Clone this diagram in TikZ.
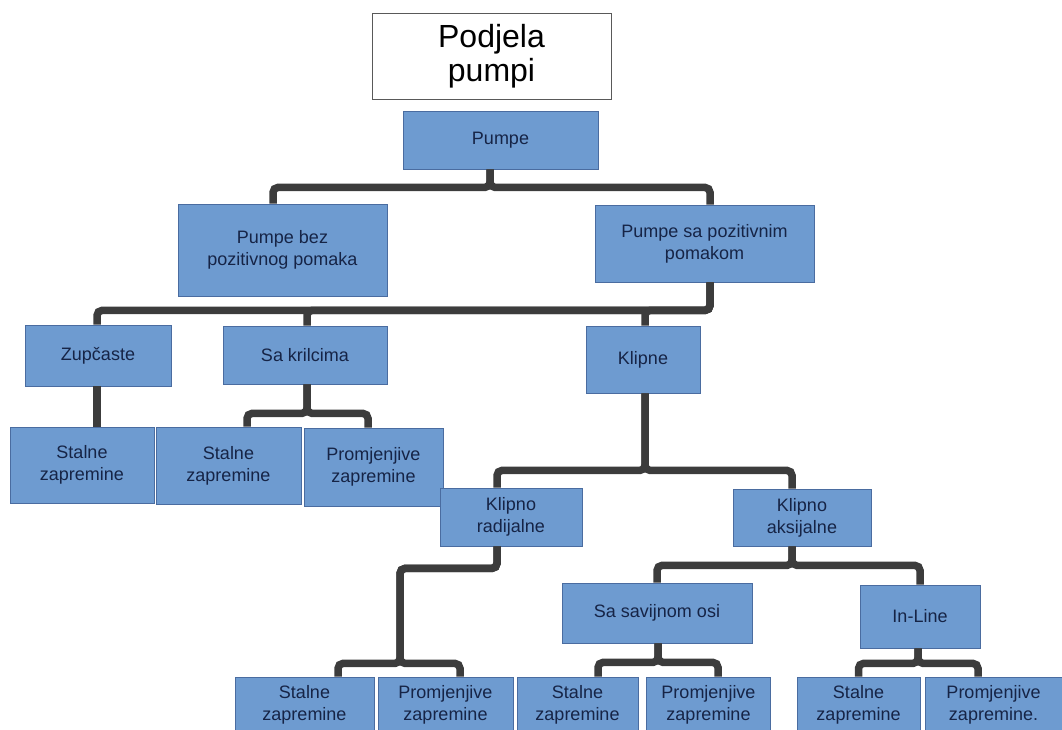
\documentclass[tikz,border=0pt]{standalone}
\usepackage{fontspec}
\setmainfont{Liberation Sans}
\usepackage{tikz}
\definecolor{boxfill}{RGB}{110,155,208}
\definecolor{boxline}{RGB}{74,108,160}
\definecolor{boxtext}{RGB}{22,36,70}
\definecolor{linkgray}{RGB}{60,60,60}
\begin{document}
\begin{tikzpicture}[x=1pt,y=-1pt,
  box/.style={draw=boxline,fill=boxfill,line width=0.8pt,inner sep=0pt,align=center,
    text=boxtext,font=\fontsize{18}{22}\selectfont},
  link/.style={draw=linkgray,line width=7.5pt,rounded corners=5pt}]
\useasboundingbox (0,0) rectangle (1062,729);
\node[draw=black!65,fill=white,line width=0.8pt,minimum width=239,minimum height=86,align=center,
  font=\fontsize{32}{34}\selectfont] (title) at (491.5,56) {Podjela\\pumpi};
% nivo 1 i 2
\node[box,minimum width=195,minimum height=58] (pumpe) at (500.5,140) {Pumpe};
\node[box,minimum width=209,minimum height=92] (bez) at (282.5,250) {Pumpe bez\\pozitivnog pomaka};
\node[box,minimum width=219,minimum height=77] (sa) at (704.5,243.5) {Pumpe sa pozitivnim\\pomakom};
% nivo 3
\node[box,minimum width=146,minimum height=61] (zup) at (98,355.5) {Zupčaste};
\node[box,minimum width=164,minimum height=58] (kril) at (305,355) {Sa krilcima};
\node[box,minimum width=114,minimum height=67] (klipne) at (643,359.5) {Klipne};
\node[box,minimum width=144,minimum height=76] (st1) at (82,465) {Stalne\\zapremine};
\node[box,minimum width=145,minimum height=77] (st2) at (228.5,465.5) {Stalne\\zapremine};
\node[box,minimum width=139,minimum height=78] (pr1) at (373.5,467) {Promjenjive\\zapremine};
% klipne
\node[box,minimum width=142,minimum height=58] (krad) at (511,517) {Klipno\\radijalne};
\node[box,minimum width=138,minimum height=57] (kaks) at (802,517.5) {Klipno\\aksijalne};
\node[box,minimum width=190,minimum height=60] (sav) at (657,613) {Sa savijnom osi};
\node[box,minimum width=120,minimum height=63] (inl) at (920,616.5) {In-Line};
% donji red
\node[box,minimum width=139,minimum height=55] (b1) at (304.5,704.5) {Stalne\\zapremine};
\node[box,minimum width=135,minimum height=55] (b2) at (445.5,704.5) {Promjenjive\\zapremine};
\node[box,minimum width=121,minimum height=55] (b3) at (577.5,704.5) {Stalne\\zapremine};
\node[box,minimum width=124,minimum height=55] (b4) at (708.5,704.5) {Promjenjive\\zapremine};
\node[box,minimum width=123,minimum height=55] (b5) at (858.5,704.5) {Stalne\\zapremine};
\node[box,minimum width=137,minimum height=55] (b6) at (993.5,704.5) {Promjenjive\\zapremine.};
% veze
\draw[link] ([xshift=-10.5pt]pumpe.south) -- ++(0,18) -| ([xshift=-9.5pt]bez.north);
\draw[link] ([xshift=-10.5pt]pumpe.south) -- ++(0,18) -| ([xshift=5.5pt]sa.north);
\draw[link] ([xshift=5.5pt]sa.south) -- ++(0,28) -| ([xshift=-1pt]zup.north);
\draw[link] ([xshift=5.5pt]sa.south) -- ++(0,28) -| ([xshift=2pt]kril.north);
\draw[link] ([xshift=5.5pt]sa.south) -- ++(0,28) -| ([xshift=2pt]klipne.north);
\draw[link] ([xshift=-1pt]zup.south) -- ([xshift=15pt]st1.north);
\draw[link] ([xshift=2pt]kril.south) -- ++(0,29) -| ([xshift=18.5pt]st2.north);
\draw[link] ([xshift=2pt]kril.south) -- ++(0,29) -| ([xshift=-5.5pt]pr1.north);
\draw[link] ([xshift=2pt]klipne.south) -- ++(0,77) -| ([xshift=-14pt]krad.north);
\draw[link] ([xshift=2pt]klipne.south) -- ++(0,77) -| ([xshift=-10pt]kaks.north);
\draw[link] ([xshift=-14pt]krad.south) -- ++(0,22) -| ++(-97,95) -| ([xshift=33.5pt]b1.north);
\draw[link] ([xshift=-14pt]krad.south) -- ++(0,22) -| ++(-97,95) -| ([xshift=14.5pt]b2.north);
\draw[link] ([xshift=-10pt]kaks.south) -- ++(0,19) -| (sav.north);
\draw[link] ([xshift=-10pt]kaks.south) -- ++(0,19) -| (inl.north);
\draw[link] ([xshift=1pt]sav.south) -- ++(0,19) -| ([xshift=20.5pt]b3.north);
\draw[link] ([xshift=1pt]sav.south) -- ++(0,19) -| ([xshift=9.5pt]b4.north);
\draw[link] ([xshift=-2pt]inl.south) -- ++(0,15) -| (b5.north);
\draw[link] ([xshift=-2pt]inl.south) -- ++(0,15) -| ([xshift=-15.5pt]b6.north);
\end{tikzpicture}
\end{document}
